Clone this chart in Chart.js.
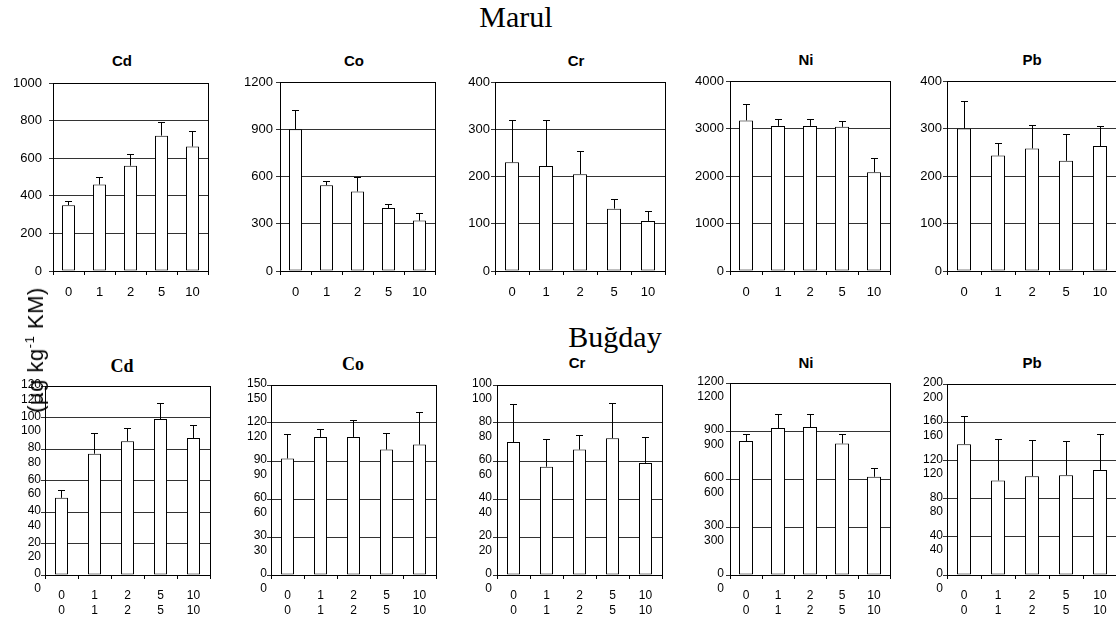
<!DOCTYPE html>
<html lang="tr">
<head>
<meta charset="utf-8">
<title>Marul ve Buğday – ağır metal içerikleri</title>
<script src="https://cdn.jsdelivr.net/npm/chart.js@4/dist/chart.umd.min.js"></script>
<style>
  html, body { margin: 0; padding: 0; background: #fff; }
  body { position: relative; width: 1116px; height: 625px; overflow: hidden; }
  canvas { position: absolute; }
  .txt { position: absolute; white-space: nowrap; line-height: 1; color: #000; }
  .sans { font-family: 'Liberation Sans', Arial, sans-serif; }
  .serif { font-family: 'Liberation Serif', 'Times New Roman', serif; }
</style>
</head>
<body>
<script>
// Doses on the category axis
const doses = ['0', '1', '2', '5', '10'];
const elements = ['Cd', 'Co', 'Cr', 'Ni', 'Pb'];

// Marul: means and standard deviations (µg kg-1 KM)
const marulCd = [350, 460, 560, 720, 662];
const marulCdSd = [25, 42, 60, 73, 83];
const marulCo = [900, 545, 505, 400, 320];
const marulCoSd = [120, 25, 92, 27, 50];
const marulCr = [230, 222, 205, 132, 106];
const marulCrSd = [90, 98, 49, 21, 21];
const marulNi = [3170, 3055, 3055, 3035, 2080];
const marulNiSd = [345, 155, 150, 120, 295];
const marulPb = [300, 243, 258, 232, 263];
const marulPbSd = [58, 27, 49, 57, 43];

// Buğday: means and standard deviations (µg kg-1 KM)
const bugdayCd = [49, 77, 85, 99, 87];
const bugdayCdSd = [5, 13, 8.5, 10, 8.5];
const bugdayCo = [92, 109, 109, 99, 103];
const bugdayCoSd = [19, 6, 13.5, 13, 26];
const bugdayCr = [70, 57, 66, 72, 59];
const bugdayCrSd = [20, 14.5, 7.5, 18.5, 13.5];
const bugdayNi = [837, 918, 925, 822, 614];
const bugdayNiSd = [42, 88, 80, 57, 52];
const bugdayPb = [137, 99, 103.5, 104.5, 110];
const bugdayPbSd = [30, 43, 38, 36, 38];

// Value axis ranges
const marulMax = [1000, 1200, 400, 4000, 400];
const marulStep = [200, 300, 100, 1000, 100];
const bugdayMax = [120, 150, 100, 1200, 200];
const bugdayStep = [20, 30, 20, 300, 40];

const marulValues = [marulCd, marulCo, marulCr, marulNi, marulPb];
const marulSds = [marulCdSd, marulCoSd, marulCrSd, marulNiSd, marulPbSd];
const bugdayValues = [bugdayCd, bugdayCo, bugdayCr, bugdayNi, bugdayPb];
const bugdaySds = [bugdayCdSd, bugdayCoSd, bugdayCrSd, bugdayNiSd, bugdayPbSd];

// Plot-area boxes (width = 5 categories; bw = bar width in px) and title anchors
const topLayout = [
  { left: 53,  top: 83, w: 155, h: 188, bw: 13, pad: 7, tx: 122,  ty: 66 },
  { left: 280, top: 82, w: 155, h: 189, bw: 13, pad: 3, tx: 354,  ty: 66 },
  { left: 495, top: 82, w: 170, h: 189, bw: 14, pad: 1, tx: 576,  ty: 66 },
  { left: 730, top: 81, w: 160, h: 190, bw: 14, pad: 2, tx: 806,  ty: 65 },
  { left: 947, top: 81, w: 170, h: 190, bw: 14, pad: 1, tx: 1032, ty: 65 }
];
const bottomLayout = [
  { left: 45,  top: 386, w: 165, h: 189, bw: 13, pad: 0, tx: 122,  ty: 372, serif: true },
  { left: 271, top: 385, w: 165, h: 190, bw: 13, pad: 0, tx: 353,  ty: 370, serif: true },
  { left: 497, top: 385, w: 165, h: 190, bw: 13, pad: 1, tx: 577,  ty: 368 },
  { left: 730, top: 383, w: 160, h: 192, bw: 14, pad: 2, tx: 806,  ty: 368 },
  { left: 947, top: 384, w: 170, h: 191, bw: 14, pad: 0, tx: 1032, ty: 368 }
];

const SANS = "'Liberation Sans', Arial, sans-serif";

// Closed frame around the plot area
const frame = {
  id: 'frame',
  afterDraw(chart) {
    const a = chart.chartArea, ctx = chart.ctx;
    ctx.save();
    ctx.strokeStyle = '#000';
    ctx.lineWidth = 1;
    ctx.strokeRect(Math.round(a.left) + 0.5, Math.round(a.top) + 0.5,
                   Math.round(a.right) - Math.round(a.left), Math.round(a.bottom) - Math.round(a.top));
    ctx.restore();
  }
};

// Upper error bars (mean + sd) with a short cap
const errorBars = {
  id: 'errorBars',
  afterDatasetsDraw(chart) {
    const ds = chart.data.datasets[0];
    const meta = chart.getDatasetMeta(0);
    const yScale = chart.scales.y;
    const ctx = chart.ctx;
    ctx.save();
    ctx.strokeStyle = '#000';
    ctx.lineWidth = 1;
    meta.data.forEach((bar, i) => {
      const v = ds.data[i], e = ds.errors[i];
      const x = Math.floor(bar.x) + 0.5;
      const y0 = yScale.getPixelForValue(v);
      const y1 = Math.round(yScale.getPixelForValue(v + e)) + 0.5;
      ctx.beginPath();
      ctx.moveTo(x, y0);
      ctx.lineTo(x, y1);
      ctx.moveTo(x - 3.5, y1);
      ctx.lineTo(x + 3.5, y1);
      ctx.stroke();
    });
    ctx.restore();
  }
};

function addText(str, cx, baseline, size, cls, bold) {
  const el = document.createElement('div');
  el.className = 'txt ' + cls;
  el.style.fontSize = size + 'px';
  el.style.fontWeight = bold ? 'bold' : 'normal';
  const asc = cls === 'serif' ? 0.8375 : 0.8465;
  el.style.top = (baseline - asc * size) + 'px';
  el.style.left = cx + 'px';
  el.style.transform = 'translateX(-50%)';
  el.textContent = str;
  document.body.appendChild(el);
}

function makePanel(p, values, sd, max, step, doubled) {
  const YW = 60, PT = 24, PR = 10, XH = doubled ? 50 : 45;
  const fs = doubled ? 12 : 13;
  const cw = p.w + YW + PR, ch = p.h + PT + XH;
  const canvas = document.createElement('canvas');
  canvas.width = cw;
  canvas.height = ch;
  canvas.style.left = (p.left - YW) + 'px';
  canvas.style.top = (p.top - PT) + 'px';
  canvas.style.width = cw + 'px';
  canvas.style.height = ch + 'px';
  document.body.appendChild(canvas);

  new Chart(canvas, {
    type: 'bar',
    data: {
      labels: doubled ? doses.map(d => [d, d]) : doses,
      datasets: [{
        data: values,
        errors: sd,
        backgroundColor: '#fff',
        borderColor: '#000',
        borderWidth: 1,
        borderSkipped: false,
        barPercentage: p.bw / (p.w / doses.length),
        categoryPercentage: 1
      }]
    },
    options: {
      responsive: false,
      animation: false,
      devicePixelRatio: 1,
      layout: { padding: { top: PT, right: PR, left: 0, bottom: 0 } },
      plugins: {
        legend: { display: false },
        tooltip: { enabled: false },
        title: { display: false }
      },
      scales: {
        x: {
          offset: true,
          grid: { offset: true, drawOnChartArea: false, drawTicks: true, tickLength: 4, color: '#000' },
          border: { display: true, color: '#000', width: 1 },
          ticks: {
            color: '#000',
            font: { family: SANS, size: fs, lineHeight: 1.25 },
            padding: 9,
            maxRotation: 0,
            autoSkip: false
          },
          afterFit: s => { s.height = XH; }
        },
        y: {
          min: 0,
          max: max,
          grid: { color: '#333', lineWidth: 1, tickLength: 4, drawTicks: true },
          border: { display: true, color: '#000', width: 1 },
          ticks: {
            stepSize: step,
            color: '#000',
            padding: p.pad,
            autoSkip: false,
            font: { family: SANS, size: fs, lineHeight: 1.2 },
            align: doubled ? 'start' : 'center',
            callback: v => doubled ? [String(v), String(v)] : String(v)
          },
          afterFit: s => { s.width = YW; }
        }
      }
    },
    plugins: [frame, errorBars]
  });
}

// Row headings
addText('Marul', 516, 27, 30, 'serif', false);
addText('Buğday', 615, 347, 30, 'serif', false);

elements.forEach((el, i) => {
  const t = topLayout[i];
  addText(el, t.tx, t.ty, 15, 'sans', true);
  makePanel(t, marulValues[i], marulSds[i], marulMax[i], marulStep[i], false);

  const b = bottomLayout[i];
  addText(el, b.tx, b.ty, b.serif ? 18 : 15, b.serif ? 'serif' : 'sans', true);
  makePanel(b, bugdayValues[i], bugdaySds[i], bugdayMax[i], bugdayStep[i], true);
});

// Shared value-axis title
const yTitle = document.createElement('div');
yTitle.className = 'txt sans';
yTitle.style.fontSize = '22px';
yTitle.style.letterSpacing = '0.5px';
yTitle.style.left = '35px';
yTitle.style.top = '350px';
yTitle.style.transform = 'translate(-50%, -50%) rotate(-90deg)';
yTitle.innerHTML = '(µg kg<sup style="font-size:13px;vertical-align:9px">-1</sup> KM)';
document.body.appendChild(yTitle);
</script>
</body>
</html>
